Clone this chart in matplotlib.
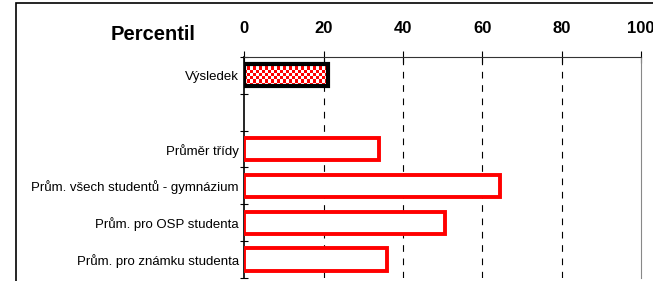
import numpy as np
import matplotlib.pyplot as plt
from matplotlib.patches import Rectangle

plt.rcParams['font.family'] = ['Liberation Sans', 'DejaVu Sans']

categories = ['Výsledek', '', 'Průměr třídy', 'Prům. všech studentů - gymnázium',
              'Prům. pro OSP studenta', 'Prům. pro známku studenta']
values = [21, None, 34, 64.5, 50.5, 36]
xticks = [0, 20, 40, 60, 80, 100]

fig = plt.figure(figsize=(6.53, 2.81), dpi=100)
ax = fig.add_axes([0.374, 0.011, 0.608, 0.786])

# outer frame
fig.patches.append(Rectangle((16 / 653, -0.1), 1.2, 1.1 - 3 / 281, transform=fig.transFigure,
                             fill=False, edgecolor='black', linewidth=1.2))

ypos = list(range(len(categories)))
h = 0.6
for y, v, c in zip(ypos, values, categories):
    if v is None:
        continue
    if y == 0:
        # checkered fill
        nx = max(int(v * 4 / 3), 2)
        ny = 7
        checker = (np.add.outer(np.arange(ny), np.arange(nx)) % 2).astype(float)
        ax.imshow(checker, cmap=plt.matplotlib.colors.ListedColormap(['red', 'white']),
                  extent=(0, v, y + h / 2, y - h / 2), aspect='auto',
                  interpolation='nearest', zorder=2)
        ax.barh(y, v, height=h, fill=False, edgecolor='black', linewidth=3, zorder=3)
    else:
        ax.barh(y, v, height=h, color='white', edgecolor='red', linewidth=2.8, zorder=3)

ax.set_xlim(0, 100)
ax.set_ylim(len(categories) - 0.5, -0.5)
ax.xaxis.tick_top()
ax.set_xticks(xticks)
ax.set_xticklabels([str(t) for t in xticks], fontsize=12, fontweight='bold')
ax.tick_params(axis='x', direction='inout', length=8, pad=11, colors='black')

ax.set_yticks([i + 0.5 for i in range(-1, len(categories))])
ax.set_yticklabels([])
ax.set_yticks(ypos, minor=True)
ax.set_yticklabels(categories, minor=True, fontsize=9.5)
ax.tick_params(axis='y', which='major', direction='inout', length=6)
ax.tick_params(axis='y', which='minor', length=0, pad=4)

for t in xticks[1:-1]:
    ax.axvline(t, color='black', linestyle=(0, (6, 6)), linewidth=0.8, zorder=0)

ax.spines['right'].set_color('#888888')
ax.spines['top'].set_color('#333333')
ax.spines['bottom'].set_visible(False)
ax.spines['left'].set_linewidth(1.2)

fig.text(153 / 653, 1 - 35 / 281, 'Percentil', fontsize=14.5, fontweight='bold',
         ha='center', va='center')

fig.savefig('out.png', dpi=100)
